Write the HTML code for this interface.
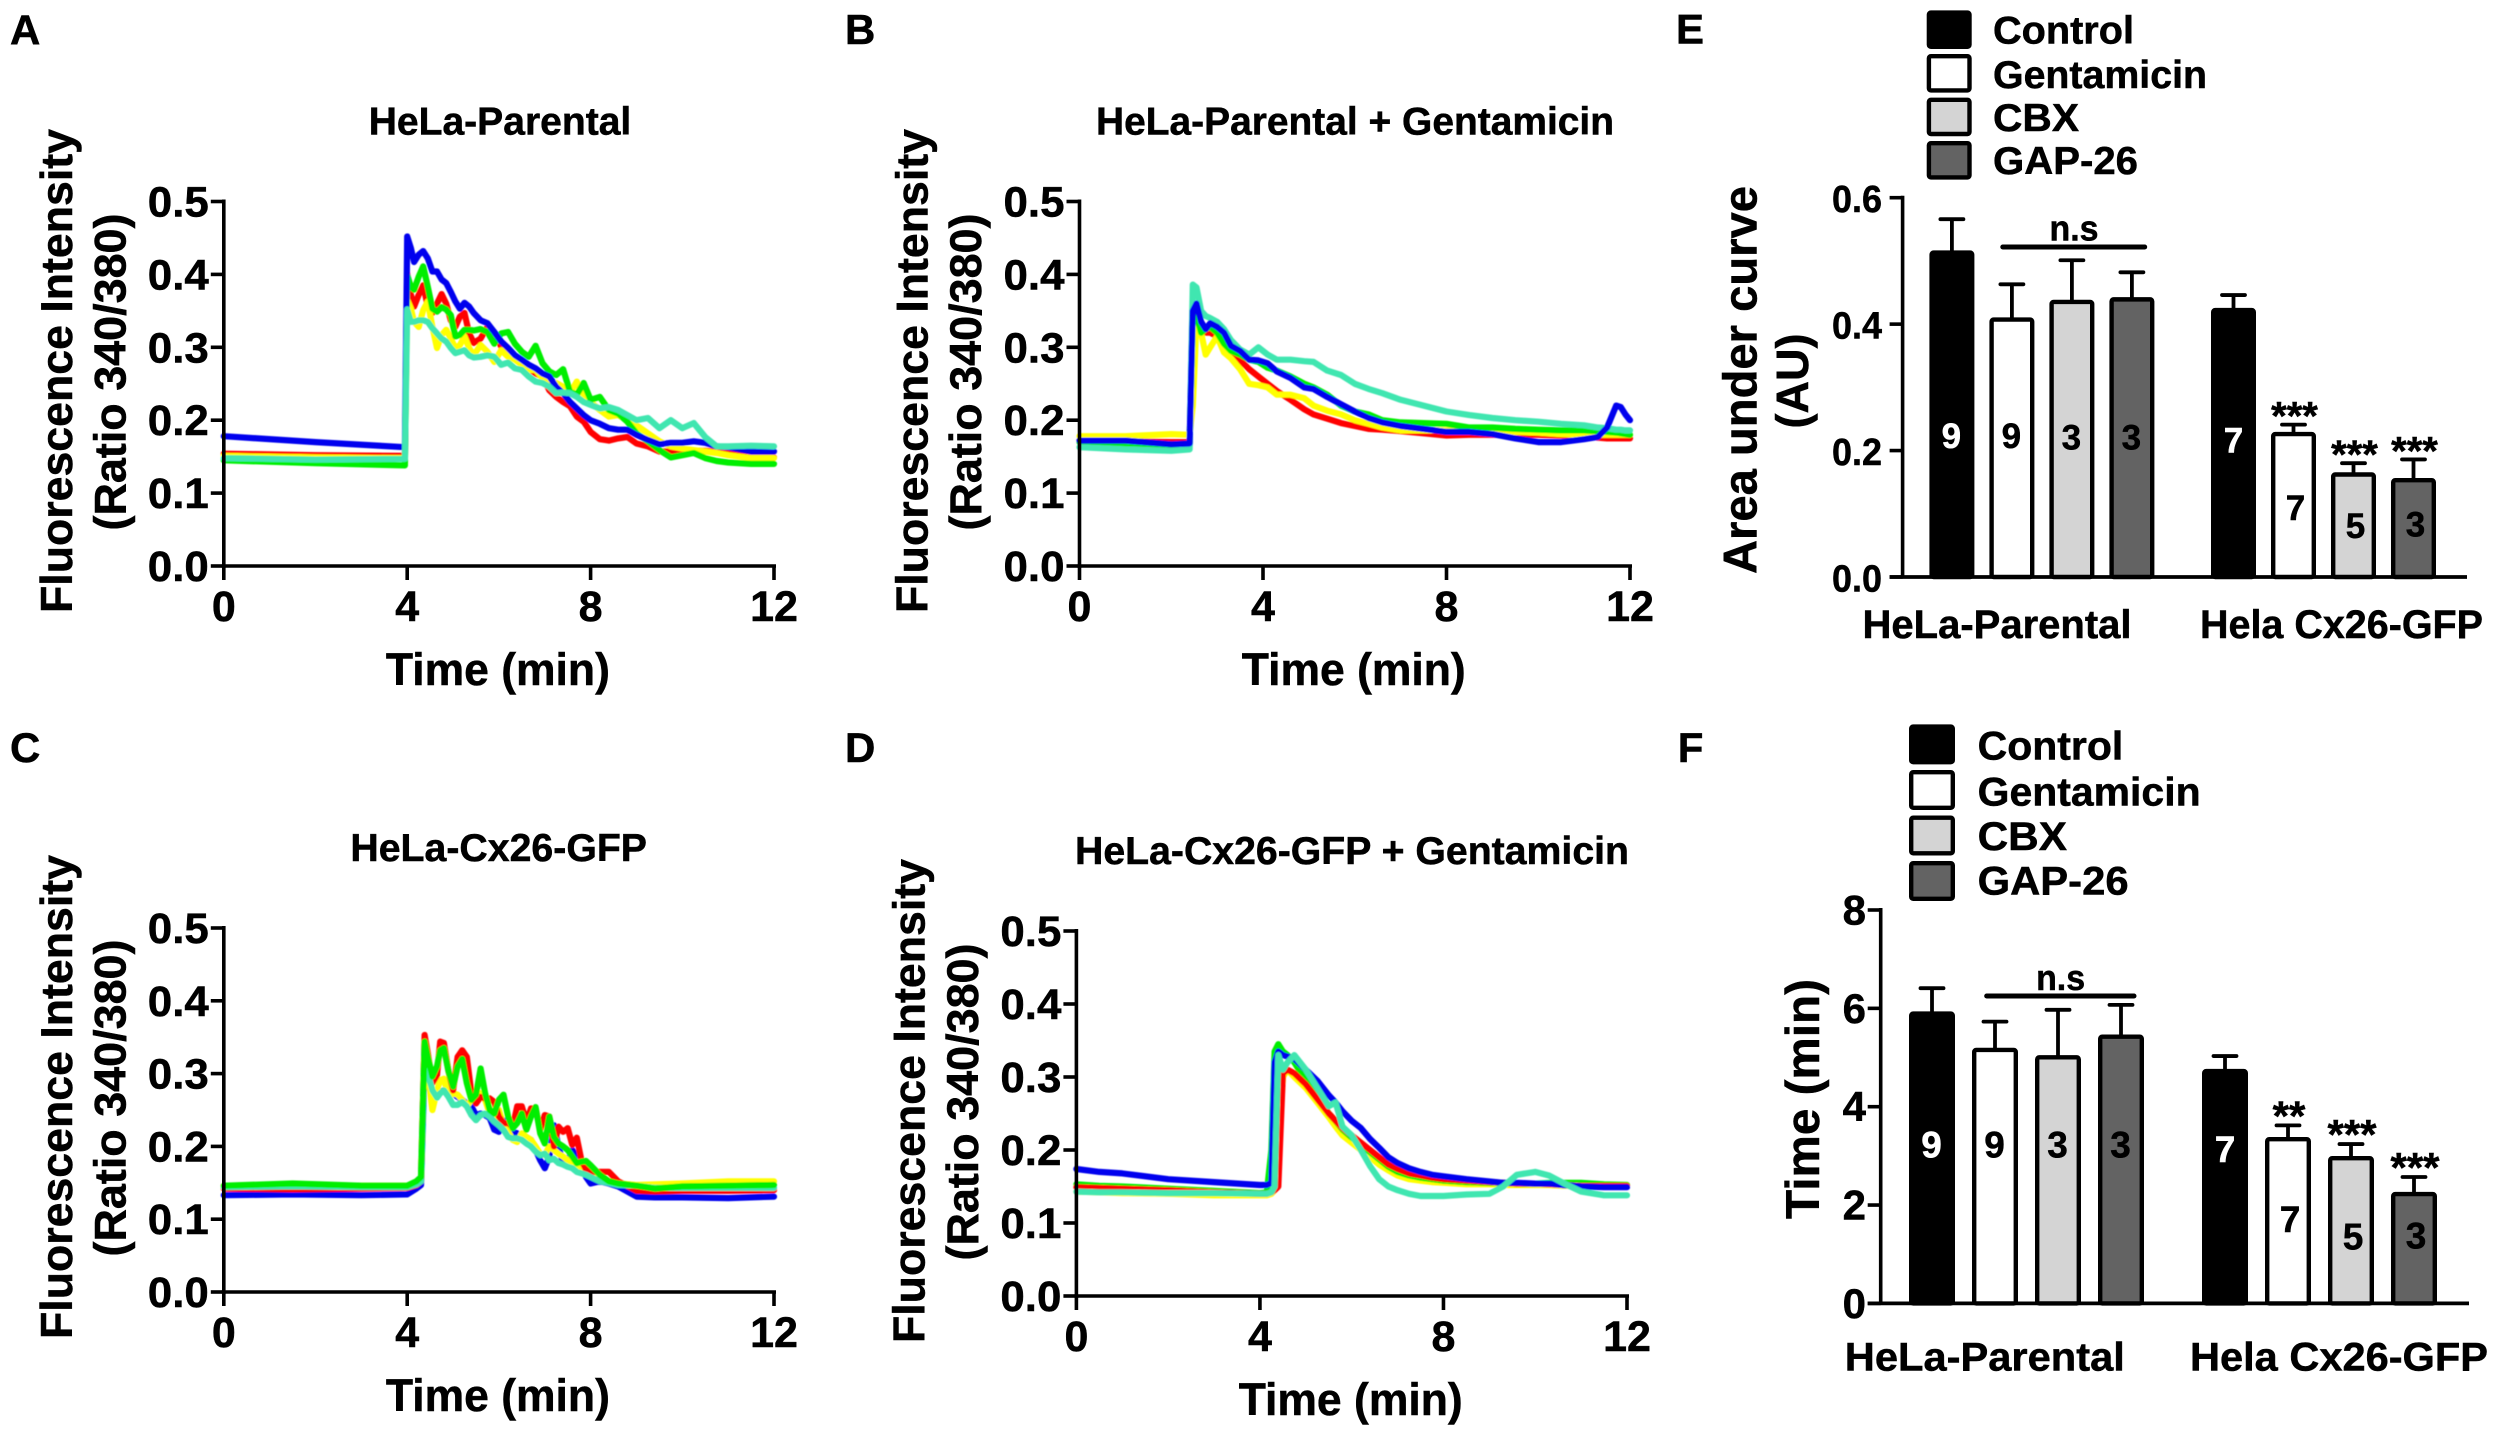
<!DOCTYPE html>
<html lang="en">
<head>
<meta charset="utf-8">
<title>Fluorescence traces and summary bars</title>
<style>
html,body{margin:0;padding:0;background:#fff;}
#figure{display:block;width:2500px;height:1435px;background:#fff;}
text{font-family:"Liberation Sans",sans-serif;font-weight:bold;fill:#000;stroke:#000;stroke-width:.5px;}
</style>
</head>
<body>
<svg id="figure" xmlns="http://www.w3.org/2000/svg" width="2500" height="1435" viewBox="0 0 2500 1435">
<defs><filter id="soft" x="-5%" y="-5%" width="110%" height="110%"><feGaussianBlur stdDeviation="0.6"/></filter></defs>
</svg>
<script>
// ---------- Panel A ----------
const aTime=[0,2,3.95,4,4.08,4.15,4.25,4.35,4.45,4.55,4.65,4.75,4.85,4.95,5.05,5.15,5.25,5.35,5.45,5.6,5.75,5.9,6.05,6.2,6.35,6.5,6.65,6.8,6.95,7.1,7.25,7.4,7.55,7.7,7.85,8,8.2,8.4,8.6,8.8,9,9.25,9.5,9.75,10,10.25,10.5,10.75,11,11.5,12];
const aRed=[.154,.152,.151,.401,.372,.356,.372,.385,.356,.347,.36,.373,.36,.337,.328,.342,.347,.319,.306,.312,.328,.319,.301,.294,.285,.28,.271,.264,.26,.241,.232,.225,.219,.205,.198,.184,.174,.172,.175,.177,.168,.164,.157,.157,.159,.158,.158,.157,.155,.149,.149];
const aYellow=[.151,.149,.148,.365,.353,.335,.328,.351,.363,.328,.299,.317,.324,.312,.299,.303,.315,.299,.289,.303,.294,.28,.296,.287,.283,.276,.269,.269,.257,.246,.251,.246,.237,.253,.232,.225,.214,.205,.207,.2,.193,.182,.171,.164,.161,.159,.157,.155,.152,.148,.148];
const aGreen=[.145,.141,.138,.399,.383,.379,.397,.411,.383,.353,.349,.355,.352,.344,.315,.317,.324,.324,.323,.325,.321,.305,.319,.321,.305,.294,.287,.302,.278,.267,.262,.27,.239,.235,.251,.228,.232,.214,.209,.198,.182,.171,.159,.149,.152,.155,.148,.144,.142,.14,.14];
const aBlue=[.178,.17,.163,.452,.436,.417,.427,.432,.422,.404,.404,.393,.388,.376,.363,.353,.361,.356,.347,.337,.333,.321,.308,.299,.289,.283,.276,.271,.264,.26,.246,.237,.225,.216,.207,.2,.195,.189,.187,.187,.18,.173,.167,.169,.169,.171,.169,.164,.163,.157,.157];
const aTeal=[.148,.146,.147,.352,.335,.335,.337,.337,.335,.326,.319,.312,.308,.299,.292,.294,.296,.289,.286,.287,.289,.287,.276,.279,.271,.269,.26,.253,.251,.246,.237,.238,.237,.232,.225,.221,.216,.218,.214,.207,.2,.203,.189,.2,.189,.196,.177,.164,.164,.165,.164];
// ---------- Panel B ----------
const bTime=[0,1,2,2.4,2.47,2.55,2.65,2.75,2.85,3,3.15,3.3,3.5,3.7,3.9,4.1,4.3,4.6,4.9,5.1,5.4,5.7,6,6.3,6.6,7,7.5,8,8.5,9,9.5,10,10.5,11,11.3,11.5,11.7,11.8,11.9,12];
const bRed=[.172,.171,.17,.17,.33,.34,.325,.32,.32,.315,.305,.29,.282,.27,.26,.25,.24,.228,.215,.208,.202,.196,.192,.188,.187,.185,.182,.179,.18,.18,.18,.18,.179,.178,.176,.175,.175,.175,.175,.175];
const bYellow=[.178,.178,.181,.18,.22,.335,.32,.29,.3,.315,.293,.285,.27,.25,.248,.245,.235,.235,.23,.22,.213,.208,.2,.195,.19,.186,.186,.186,.185,.185,.184,.183,.181,.18,.18,.18,.18,.18,.18,.18];
const bGreen=[.17,.168,.166,.168,.34,.345,.32,.325,.328,.32,.305,.295,.29,.283,.28,.272,.268,.26,.25,.245,.235,.22,.212,.208,.2,.197,.196,.195,.19,.19,.188,.187,.186,.186,.185,.184,.183,.182,.181,.18];
const bTeal=[.163,.16,.158,.16,.386,.382,.35,.343,.34,.335,.325,.31,.297,.29,.3,.29,.283,.283,.281,.28,.268,.262,.25,.243,.237,.228,.22,.212,.207,.203,.2,.198,.195,.193,.19,.189,.187,.187,.186,.186];
const bBlue=[.172,.172,.167,.168,.35,.36,.335,.325,.333,.328,.32,.302,.295,.283,.282,.278,.267,.258,.245,.243,.232,.222,.212,.203,.197,.192,.188,.184,.184,.181,.175,.17,.17,.174,.177,.19,.22,.218,.208,.2];
// ---------- Panel C ----------
const cTime=[0,1.5,3,4,4.2,4.3,4.38,4.45,4.55,4.65,4.72,4.8,4.9,5,5.1,5.2,5.3,5.4,5.5,5.6,5.7,5.8,5.9,6,6.1,6.2,6.3,6.4,6.5,6.6,6.7,6.8,6.9,7,7.1,7.2,7.3,7.4,7.5,7.6,7.7,7.8,7.9,8,8.2,8.4,8.6,9,9.4,10,11,12];
const cBlue=[.133,.134,.133,.134,.142,.147,.31,.29,.277,.275,.275,.277,.273,.273,.268,.264,.259,.255,.243,.245,.243,.239,.223,.22,.236,.225,.22,.218,.209,.206,.209,.195,.181,.17,.186,.229,.2,.177,.181,.195,.186,.172,.158,.149,.152,.149,.145,.131,.13,.13,.129,.131];
const cYellow=[.146,.147,.146,.146,.15,.155,.344,.3,.25,.277,.291,.293,.268,.273,.271,.264,.255,.264,.271,.273,.264,.245,.236,.25,.229,.22,.209,.206,.218,.213,.209,.2,.19,.188,.2,.195,.19,.186,.181,.177,.172,.168,.165,.163,.156,.152,.149,.147,.148,.149,.152,.152];
const cRed=[.142,.141,.142,.143,.147,.152,.353,.328,.287,.298,.344,.342,.303,.277,.323,.332,.323,.273,.259,.268,.266,.266,.261,.241,.232,.232,.227,.255,.255,.234,.252,.252,.223,.243,.241,.2,.227,.22,.225,.202,.212,.181,.168,.165,.165,.165,.152,.139,.138,.139,.139,.14];
const cTeal=[.144,.145,.144,.144,.148,.152,.342,.3,.277,.267,.273,.277,.268,.257,.257,.261,.255,.243,.236,.243,.245,.241,.234,.229,.223,.213,.211,.211,.209,.204,.2,.193,.188,.19,.181,.183,.177,.175,.172,.17,.165,.163,.161,.158,.152,.15,.147,.146,.143,.143,.143,.143];
const cGreen=[.146,.149,.146,.146,.152,.158,.344,.323,.296,.31,.332,.335,.303,.282,.31,.32,.287,.264,.271,.307,.273,.25,.245,.264,.271,.241,.225,.232,.245,.223,.241,.254,.218,.204,.241,.213,.204,.2,.195,.186,.177,.179,.18,.174,.161,.152,.149,.146,.142,.145,.146,.147];
// ---------- Panel D ----------
const dTime=[0,.5,1,2,3,4,4.15,4.25,4.32,4.4,4.5,4.6,4.75,5,5.25,5.5,5.65,5.8,6,6.2,6.4,6.6,6.8,7,7.25,7.5,7.75,8,8.5,9,9.3,9.6,10,10.3,10.6,11,11.5,12];
const dYellow=[.143,.142,.141,.14,.138,.138,.138,.14,.145,.2,.3,.31,.3,.285,.265,.245,.232,.22,.21,.2,.19,.18,.172,.165,.16,.158,.156,.155,.153,.153,.152,.152,.152,.152,.151,.151,.15,.15];
const dGreen=[.153,.151,.15,.147,.144,.141,.142,.2,.335,.345,.335,.33,.32,.295,.275,.25,.24,.228,.217,.207,.197,.187,.177,.17,.165,.162,.16,.158,.156,.155,.155,.154,.154,.155,.155,.155,.153,.152];
const dRed=[.149,.148,.147,.145,.142,.14,.14,.142,.145,.15,.305,.31,.305,.29,.27,.25,.24,.23,.22,.21,.2,.19,.18,.174,.168,.165,.162,.16,.158,.156,.155,.154,.154,.153,.152,.151,.151,.151];
const dBlue=[.174,.17,.168,.16,.156,.152,.152,.155,.32,.335,.33,.328,.325,.31,.295,.275,.265,.253,.24,.23,.215,.203,.19,.182,.175,.17,.166,.164,.16,.157,.155,.155,.154,.154,.152,.15,.149,.149];
const dTeal=[.143,.142,.142,.141,.141,.14,.14,.142,.15,.33,.31,.32,.33,.31,.285,.26,.265,.232,.22,.2,.178,.16,.15,.145,.14,.137,.137,.137,.139,.14,.15,.166,.17,.165,.155,.143,.138,.138];
// ---------- Shared line axis ticks ----------
const timeTicks=[0,4,8,12];
const ratioTicks=[0,.1,.2,.3,.4,.5];
// ---------- Panel E ----------
const eValues=[.516,.41,.438,.442,.425,.229,.165,.156];
const eErrorTops=[.566,.463,.501,.482,.446,.241,.18,.186];
const eCounts=[9,9,3,3,7,7,5,3];
const eCountLevels=[.204,.204,.202,.202,.197,.09,.062,.064];
const eStars=["","","","","","***","***","***"];
const eTicks=[0,.2,.4,.6];
// ---------- Panel F ----------
const fValues=[5.93,5.19,5.04,5.46,4.76,3.375,2.99,2.26];
const fErrorTops=[6.41,5.73,5.97,6.07,5.03,3.62,3.24,2.57];
const fCounts=[9,9,3,3,7,7,5,3];
const fCountLevels=[2.97,2.97,2.97,2.97,2.88,1.45,1.1,1.12];
const fStars=["","","","","","**","***","***"];
const fTicks=[0,2,4,6,8];
// ---------- Shared categories ----------
const treatments=["Control","Gentamicin","CBX","GAP-26"];
const groups=["HeLa-Parental","Hela Cx26-GFP"];

const NS="http://www.w3.org/2000/svg";
const root=document.getElementById("figure");
const COLORS={red:"#ff0000",yellow:"#ffff00",green:"#00ee00",blue:"#0000ee",teal:"#3fe6b0"};
const FILLS=["#000000","#ffffff","#d4d4d4","#636363"];

function shape(tag,parent,name,attrs){
  const el=document.createElementNS(NS,tag);
  for(const k in attrs){el.setAttribute(k,attrs[k]);}
  
  
  parent.appendChild(el);
  return el;
}
function group(parent,name){
  return shape("g",parent,name,{});
}
function label(parent,name,str,x,y,size,opts){
  opts=opts||{};
  const a={x:x,y:y,"font-size":size,"text-anchor":opts.anchor||"start"};
  if(opts.width){a.textLength=opts.width;a.lengthAdjust="spacingAndGlyphs";}
  if(opts.rotate){a.transform="rotate(-90 "+x+" "+y+")";}
  if(opts.fill){a.style="fill:"+opts.fill+";stroke:"+opts.fill;}
  const el=shape("text",parent,name,a);
  el.textContent=str;
  return el;
}
function line(parent,name,x1,y1,x2,y2,w,cap){
  return shape("line",parent,name,{x1:x1,y1:y1,x2:x2,y2:y2,stroke:"#000","stroke-width":w,"stroke-linecap":cap||"butt"});
}

function linePanel(p){
  const g=group(root,"panel-"+p.letter.toLowerCase());
  const sx=t=>p.x0+(t-0)*(p.x1-p.x0)/12;
  const sy=v=>p.y0-(v-0)*(p.y0-p.yTop)/0.5;
  label(g,"panel-letter",p.letter,p.letterX,p.letterY,42);
  label(g,"panel-title",p.title,p.titleX,p.titleY,39,{width:p.titleW});
  label(g,"y-axis-title",'Fluorescence Intensity',p.x0-151.8,p.yTitleC,44.6,{anchor:"middle",rotate:true,width:484});
  label(g,"y-axis-subtitle",'(Ratio 340/380)',p.x0-98.3,p.yTitleC+1,44.6,{anchor:"middle",rotate:true,width:317});
  label(g,"x-axis-title",'Time (min)',(p.x0+p.x1)/2-1,p.y0+119,45,{anchor:"middle",width:224});
  const series=group(g,"traces");
  series.setAttribute("filter","url(#soft)");
  p.series.forEach(s=>{
    const pts=s.values.map((v,i)=>sx(p.time[i]).toFixed(1)+","+sy(v).toFixed(1)).join(" ");
    shape("polyline",series,"trace-"+s.key,{points:pts,fill:"none",stroke:COLORS[s.key],"stroke-width":6.2,"stroke-linejoin":"round","stroke-linecap":"round"});
  });
  const axes=group(g,"axes");
  line(axes,"y-axis-line",p.x0,p.yTop-2,p.x0,p.y0+2,3.6);
  line(axes,"x-axis-line",p.x0-2,p.y0,p.x1+2,p.y0,3.6);
  ratioTicks.forEach(v=>{
    line(axes,"y-tick",p.x0-13,sy(v),p.x0,sy(v),3.6);
    label(axes,"y-tick-label",v.toFixed(1),p.x0-15,sy(v)+15,43,{anchor:"end",width:61});
  });
  timeTicks.forEach(t=>{
    line(axes,"x-tick",sx(t),p.y0,sx(t),p.y0+14,3.6);
    label(axes,"x-tick-label",String(t),sx(t),p.y0+55,43,{anchor:"middle"});
  });
}

function barPanel(p){
  const g=group(root,"panel-"+p.letter.toLowerCase());
  const sy=v=>p.y0-v*(p.y0-p.yTop)/p.yMax;
  label(g,"panel-letter",p.letter,p.letterX,p.letterY,42);
  treatments.forEach((t,i)=>{
    const lg=group(g,"legend-entry");
    const top=p.legendY[i];
    shape("rect",lg,"legend-swatch",{x:p.swatchX+2.2,y:top+2.2,width:p.swatchW-4.4,height:p.swatchH-4.4,rx:2,fill:FILLS[i],stroke:"#000","stroke-width":4.4});
    label(lg,"legend-label",t,p.legendTextX,p.legendBase[i],p.legendSize,{width:p.legendW[i]});
  });
  p.yTitles.forEach(t=>{
    label(g,"y-axis-title",t.text,t.x,t.y,t.size,{anchor:"middle",rotate:true,width:t.width});
  });
  const bars=group(g,"bars");
  p.values.forEach((v,i)=>{
    const start=i<4?p.group1:p.group2;
    const left=start+(i%4)*p.step;
    const cx=left+p.barW/2;
    const top=sy(v), err=sy(p.errorTops[i]);
    line(bars,"error-bar",cx,top,cx,err,3.8);
    line(bars,"error-cap",cx-11.5,err,cx+11.5,err,3.8,"round");
    shape("rect",bars,"bar-"+groups[i<4?0:1].toLowerCase().replace(/\s+/g,'-')+"-"+treatments[i%4].toLowerCase(),{x:left+2.2,y:top+1.8,width:p.barW-4.4,height:p.y0-top-1.8,rx:2,fill:FILLS[i%4],stroke:"#000","stroke-width":4.4});
    const nudge=i>4?2:(i===4?0:-0.5);
    label(bars,"sample-count",String(p.counts[i]),cx+nudge,sy(p.countLevels[i]),p.countSize,{anchor:"middle",fill:i%4===0?"#ffffff":"#000000"});
    if(p.stars[i]){
      label(bars,"significance-stars",p.stars[i],cx+1,err+p.starOffset,p.starSize,{anchor:"middle"});
    }
  });
  const axes=group(g,"axes");
  line(axes,"y-axis-line",p.axisX,p.yTop-2,p.axisX,p.y0,3.6);
  line(axes,"x-axis-line",p.axisX-13,p.y0,p.xEnd,p.y0,3.8);
  p.ticks.forEach(v=>{
    line(axes,"y-tick",p.axisX-13,sy(v),p.axisX,sy(v),3.6);
    label(axes,"y-tick-label",v.toFixed(p.tickDigits),p.tickRight,sy(v)+14.5,p.tickSize,{anchor:"end",width:p.tickDigits?p.tickW:null});
  });
  groups.forEach((t,i)=>{
    label(axes,"x-group-label",t,p.groupLabelX[i],p.groupLabelY,40,{width:p.groupLabelW[i]});
  });
  line(g,"not-significant-bracket",p.nsX1,p.nsY,p.nsX2,p.nsY,5,"round");
  label(g,"not-significant-label","n.s",(p.nsTextX),p.nsTextY,36,{anchor:"middle",width:49});
}

linePanel({letter:"A",title:"HeLa-Parental",x0:223.8,x1:774,yTop:201.5,y0:566,letterX:10,letterY:44.5,titleX:368.7,titleY:134.5,titleW:262.6,yTitleC:371,time:aTime,
  series:[{key:"red",values:aRed},{key:"yellow",values:aYellow},{key:"green",values:aGreen},{key:"blue",values:aBlue},{key:"teal",values:aTeal}]});
linePanel({letter:"B",title:"HeLa-Parental + Gentamicin",x0:1079.5,x1:1630,yTop:201.5,y0:566,letterX:845,letterY:44,titleX:1096,titleY:134.5,titleW:518,yTitleC:371,time:bTime,
  series:[{key:"red",values:bRed},{key:"yellow",values:bYellow},{key:"green",values:bGreen},{key:"teal",values:bTeal},{key:"blue",values:bBlue}]});
linePanel({letter:"C",title:"HeLa-Cx26-GFP",x0:223.8,x1:774,yTop:928,y0:1292,letterX:10,letterY:762,titleX:350.4,titleY:861,titleW:296.6,yTitleC:1097,time:cTime,
  series:[{key:"blue",values:cBlue},{key:"yellow",values:cYellow},{key:"red",values:cRed},{key:"teal",values:cTeal},{key:"green",values:cGreen}]});
linePanel({letter:"D",title:"HeLa-Cx26-GFP + Gentamicin",x0:1076.4,x1:1627,yTop:931,y0:1296,letterX:845,letterY:762,titleX:1075,titleY:864,titleW:554,yTitleC:1101,time:dTime,
  series:[{key:"yellow",values:dYellow},{key:"green",values:dGreen},{key:"red",values:dRed},{key:"blue",values:dBlue},{key:"teal",values:dTeal}]});

barPanel({letter:"E",letterX:1676,letterY:43.5,yMax:.6,yTop:197.7,y0:577,axisX:1902.6,xEnd:2467,
  values:eValues,errorTops:eErrorTops,counts:eCounts,countLevels:eCountLevels,stars:eStars,ticks:eTicks,
  group1:1929.4,group2:2211,step:60,barW:45,countSize:35,starSize:40,starOffset:5,
  swatchX:1926.7,swatchW:45,swatchH:38.6,legendY:[10.4,54,97.6,141],legendTextX:1993,legendBase:[43.4,88,131,174],legendW:[141,214,86,145],legendSize:39,
  yTitles:[{text:"Area under curve",x:1756.4,y:380,size:47,width:388},{text:"(AU)",x:1808,y:381,size:45,width:95}],
  tickRight:1882,tickSize:38,tickDigits:1,tickW:50,
  groupLabelX:[1862.5,2200],groupLabelY:638,groupLabelW:[269,283],
  nsX1:2002.8,nsX2:2144.7,nsY:247,nsTextX:2074,nsTextY:240.7});
barPanel({letter:"F",letterX:1677.7,letterY:762,yMax:8,yTop:910,y0:1303.4,axisX:1880.7,xEnd:2469,
  values:fValues,errorTops:fErrorTops,counts:fCounts,countLevels:fCountLevels,stars:fStars,ticks:fTicks,
  group1:1909,group2:2202,step:63,barW:46,countSize:37,starSize:42,starOffset:5,
  swatchX:1909,swatchW:46,swatchH:40,legendY:[724.4,770,815.5,861],legendTextX:1977.6,legendBase:[759.5,805.5,850,894.6],legendW:[145.7,223,89.4,151],legendSize:40,
  yTitles:[{text:"Time (min)",x:1819,y:1099,size:47.5,width:240}],
  tickRight:1866,tickSize:42,tickDigits:0,tickW:24,
  groupLabelX:[1844.8,2190],groupLabelY:1370.4,groupLabelW:[280,298],
  nsX1:1986.7,nsX2:2134,nsY:996,nsTextX:2060.6,nsTextY:990});
</script>
</body>
</html>
